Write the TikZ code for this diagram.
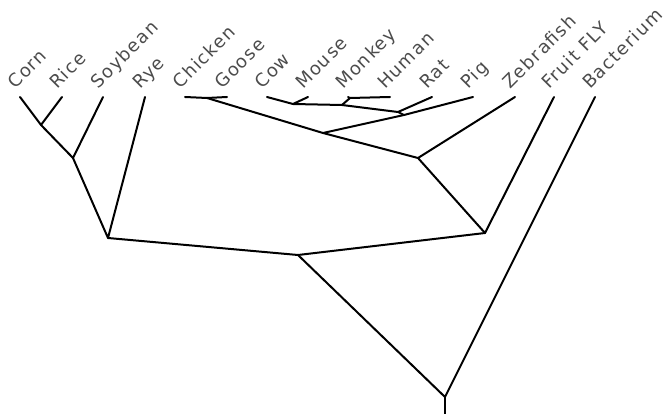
\documentclass[tikz,border=0pt]{standalone}
\usepackage{fontspec}
\usepackage{tikz}
\usetikzlibrary{positioning}
\newfontfamily\taxonfont[LetterSpace=8]{DejaVu Sans}

\begin{document}
\begin{tikzpicture}[x=1pt, y=-1pt,
    taxon/.style={anchor=base west, rotate=45, inner sep=0pt, font=\taxonfont\fontsize{18}{18}\selectfont, text=black!70},
    branch/.style={line width=2pt, line join=round, line cap=round}
]
\useasboundingbox (0,0) rectangle (670,414);
% leaf tips
\coordinate (corn) at (20,97);
\coordinate (rice) at (62,97);
\coordinate (soybean) at (103,97);
\coordinate (rye) at (145,97);
\coordinate (chicken) at (185,97);
\coordinate (goose) at (227,97);
\coordinate (cow) at (267,97);
\coordinate (mouse) at (308,97);
\coordinate (monkey) at (348,97);
\coordinate (human) at (390,97);
\coordinate (rat) at (432,97);
\coordinate (pig) at (473,97);
\coordinate (zebrafish) at (515,97);
\coordinate (fruitfly) at (554,97);
\coordinate (bacterium) at (595,97);
% inner branch points
\coordinate (cr) at (41,125);
\coordinate (crs) at (73,158);
\coordinate (plants) at (108,238);
\coordinate (birds) at (207,98);
\coordinate (cm) at (293,104);
\coordinate (mh) at (350,98);
\coordinate (cmmh) at (342,105);
\coordinate (ratclade) at (398,112);
\coordinate (mammals) at (404,115);
\coordinate (amniotes) at (323,133);
\coordinate (vertebrates) at (418,158);
\coordinate (animals) at (485,233);
\coordinate (eukarya) at (298,255);
\coordinate (root) at (445,397);
\coordinate (base) at (445,414);
% labels
\node[taxon] (lcorn) at ([xshift=-5pt,yshift=7pt]corn) {Corn};
\node[taxon] (lrice) at ([xshift=-5pt,yshift=7pt]rice) {Rice};
\node[taxon] (lsoybean) at ([xshift=-5pt,yshift=7pt]soybean) {Soybean};
\node[taxon] (lrye) at ([xshift=-5pt,yshift=7pt]rye) {Rye};
\node[taxon] (lchicken) at ([xshift=-5pt,yshift=7pt]chicken) {Chicken};
\node[taxon] (lgoose) at ([xshift=-5pt,yshift=7pt]goose) {Goose};
\node[taxon] (lcow) at ([xshift=-5pt,yshift=7pt]cow) {Cow};
\node[taxon] (lmouse) at ([xshift=-5pt,yshift=7pt]mouse) {Mouse};
\node[taxon] (lmonkey) at ([xshift=-5pt,yshift=7pt]monkey) {Monkey};
\node[taxon] (lhuman) at ([xshift=-5pt,yshift=7pt]human) {Human};
\node[taxon] (lrat) at ([xshift=-5pt,yshift=7pt]rat) {Rat};
\node[taxon] (lpig) at ([xshift=-5pt,yshift=7pt]pig) {Pig};
\node[taxon] (lzebrafish) at ([xshift=-5pt,yshift=7pt]zebrafish) {Zebrafish};
\node[taxon] (lfruitfly) at ([xshift=-5pt,yshift=7pt]fruitfly) {Fruit FLY};
\node[taxon] (lbacterium) at ([xshift=-5pt,yshift=7pt]bacterium) {Bacterium};
% branches
\draw[branch] (corn) -- (cr) -- (rice);
\draw[branch] (cr) -- (crs) -- (soybean);
\draw[branch] (crs) -- (plants) -- (rye);
\draw[branch] (chicken) -- (birds) -- (goose);
\draw[branch] (cow) -- (cm) -- (mouse);
\draw[branch] (monkey) -- (mh) -- (human);
\draw[branch] (cm) -- (cmmh) -- (mh);
\draw[branch] (cmmh) -- (ratclade) -- (rat);
\draw[branch] (ratclade) -- (mammals) -- (pig);
\draw[branch] (mammals) -- (amniotes) -- (birds);
\draw[branch] (amniotes) -- (vertebrates) -- (zebrafish);
\draw[branch] (vertebrates) -- (animals) -- (fruitfly);
\draw[branch] (animals) -- (eukarya) -- (plants);
\draw[branch] (eukarya) -- (root) -- (bacterium);
\draw[branch] (root) -- (base);
\end{tikzpicture}
\end{document}
